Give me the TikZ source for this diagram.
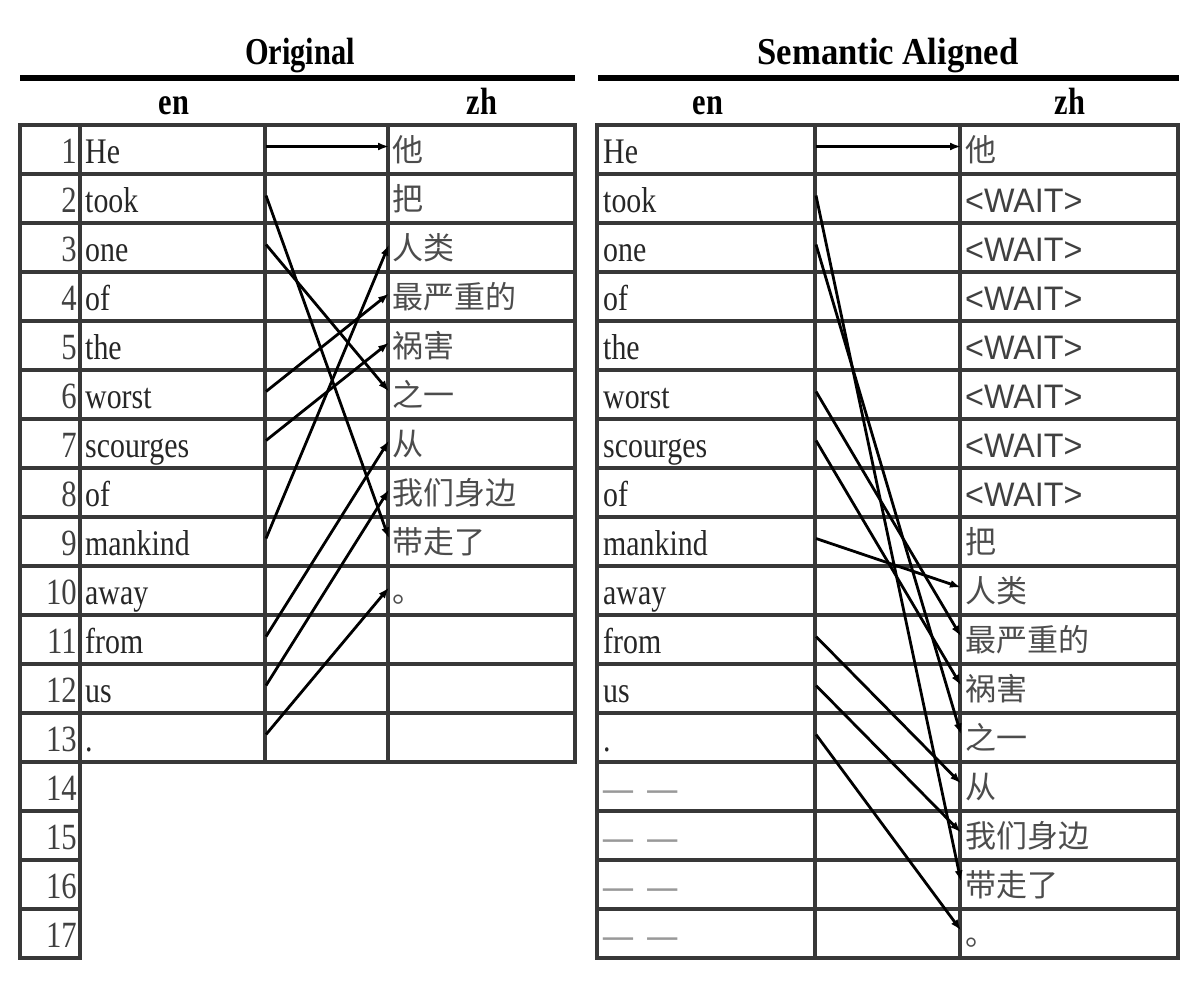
\documentclass[tikz,border=0pt]{standalone}
\usepackage{fontspec}
\setmainfont{Liberation Serif}[FakeStretch=0.83]
\newfontfamily\titlefont{Liberation Serif}[FakeStretch=0.8]
\newfontfamily\cjkfont{Noto Sans CJK SC}
\newfontfamily\waitfont{Liberation Sans}[FakeStretch=0.95]
\usetikzlibrary{arrows.meta}
\begin{document}
\begin{tikzpicture}[x=1pt,y=-1pt,
  grid/.style={draw=black!78, line width=3.6pt, line cap=rect},
  rule/.style={draw=black, line width=6.5pt},
  link/.style={-{Latex[length=11pt,width=8pt]}, line width=2.8pt, draw=black},
  entxt/.style={anchor=base west, inner sep=0pt, font=\fontsize{36}{40}\selectfont, text=black!85},
  numtxt/.style={anchor=base east, inner sep=0pt, font=\fontsize{37}{40}\selectfont, text=black!75},
  zhtxt/.style={anchor=base west, inner sep=0pt, font=\cjkfont\fontsize{31}{36}\selectfont, text=black!70},
  waittxt/.style={anchor=base west, inner sep=0pt, font=\waitfont\fontsize{34}{40}\selectfont, text=black!75},
  dashtxt/.style={anchor=base west, inner sep=0pt, font=\bfseries\fontsize{36}{40}\selectfont, text=black!40},
  titletxt/.style={anchor=base, inner sep=0pt, font=\titlefont\bfseries\fontsize{38}{44}\selectfont},
  headtxt/.style={anchor=base, inner sep=0pt, font=\titlefont\bfseries\fontsize{38}{44}\selectfont}]
\useasboundingbox (0,0) rectangle (1200,983);

% ---------- titles ----------
\node[titletxt] (tOrig) at (300,64) {Original};
\node[titletxt] (tSem) at (888,64) {\scalebox{1.14}[1]{Semantic Aligned}};
\draw[rule] (20,78) -- (575,78);
\draw[rule] (598,78) -- (1179,78);
\node[headtxt] (hLen) at (174,114) {en};
\node[headtxt] (hLzh) at (482,114) {zh};
\node[headtxt] (hRen) at (708,114) {en};
\node[headtxt] (hRzh) at (1070,114) {zh};

% ---------- left grid ----------
\draw[grid] (20,125) rectangle (575,762);
\foreach \k in {1,...,12} \draw[grid] (20,125+49*\k) -- (575,125+49*\k);
\draw[grid] (20,762) rectangle (80,958);
\foreach \k in {14,...,16} \draw[grid] (20,125+49*\k) -- (80,125+49*\k);
\draw[grid] (80,125) -- (80,762);
\draw[grid] (265,125) -- (265,762);
\draw[grid] (388,125) -- (388,762);

% ---------- right grid ----------
\draw[grid] (597,125) rectangle (1178,958);
\foreach \k in {1,...,16} \draw[grid] (597,125+49*\k) -- (1178,125+49*\k);
\draw[grid] (815,125) -- (815,958);
\draw[grid] (960,125) -- (960,958);

% ---------- left texts ----------
\foreach \i in {1,...,17} \node[numtxt] (Ln\i) at (77,114+49*\i) {\i};
\foreach \w [count=\i] in {He,took,one,of,the,worst,scourges,of,mankind,away,from,us,.}
  \node[entxt] (Le\i) at (85,114+49*\i) {\w};
\foreach \w [count=\i] in {他,把,人类,最严重的,祸害,之一,从,我们身边,带走了,。}
  \node[zhtxt] (Lz\i) at (392,112+49*\i) {\w};

% ---------- right texts ----------
\foreach \w [count=\i] in {He,took,one,of,the,worst,scourges,of,mankind,away,from,us,.}
  \node[entxt] (Re\i) at (603,114+49*\i) {\w};
\foreach \i in {14,...,17} \node[dashtxt] (Rd\i) at (603,114+49*\i) {—\hspace{0.4em}—};
\node[zhtxt] (Rz1) at (965,112+49) {他};
\foreach \i in {2,...,8} \node[waittxt] (Rw\i) at (965,114+49*\i) {<WAIT>};
\foreach \w [count=\j] in {把,人类,最严重的,祸害,之一,从,我们身边,带走了,。}
  \node[zhtxt] (Rz\j) at (965,112+49*8+49*\j) {\w};

% ---------- anchor points ----------
\foreach \i in {1,...,17} {
  \coordinate (Ls\i) at (266,97.5+49*\i);
  \coordinate (Lt\i) at (389,97.5+49*\i);
  \coordinate (Rs\i) at (816,97.5+49*\i);
  \coordinate (Rt\i) at (961,97.5+49*\i);
}

% ---------- left links ----------
\draw[link] (Ls1) -- (Lt1);
\draw[link] (Ls2) -- (Lt9);
\draw[link] (Ls3) -- (Lt6);
\draw[link] (Ls6) -- (Lt4);
\draw[link] (Ls7) -- (Lt5);
\draw[link] (Ls9) -- (Lt3);
\draw[link] (Ls11) -- (Lt7);
\draw[link] (Ls12) -- (Lt8);
\draw[link] (Ls13) -- (Lt10);

% ---------- right links ----------
\draw[link] (Rs1) -- (Rt1);
\draw[link] (Rs2) -- (Rt16);
\draw[link] (Rs3) -- (Rt13);
\draw[link] (Rs6) -- (Rt11);
\draw[link] (Rs7) -- (Rt12);
\draw[link] (Rs9) -- (Rt10);
\draw[link] (Rs11) -- (Rt14);
\draw[link] (Rs12) -- (Rt15);
\draw[link] (Rs13) -- (Rt17);
\end{tikzpicture}
\end{document}
